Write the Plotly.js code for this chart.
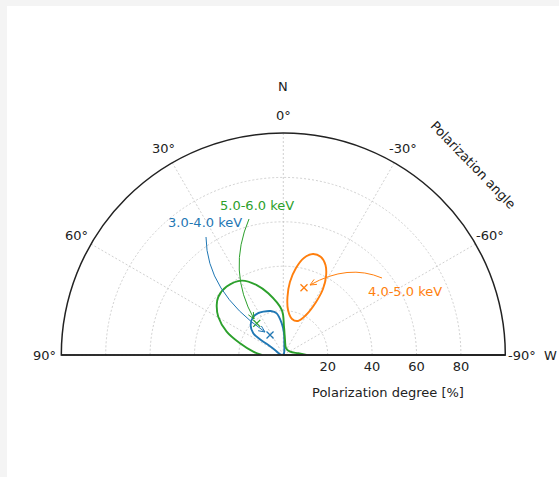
<!DOCTYPE html>
<html><head><meta charset="utf-8">
<script src="https://cdn.plot.ly/plotly-3.0.1.min.js"></script>
<style>
html,body{margin:0;padding:0;background:#f4f4f4;overflow:hidden;width:559px;height:477px}
#plot{position:absolute;left:7px;top:6px;width:552px;height:471px;background:#fff}
</style>
</head><body><div id="plot"></div>
<script>
// ---- data (polarization degree r [%], polarization angle theta [deg]) ----
const bandLabels = ['3.0-4.0 keV', '4.0-5.0 keV', '5.0-6.0 keV'];
const bandColors = ['#1f77b4', '#ff7f0e', '#2ca02c'];

const blueContourR     = [0, 1.35, 5.3, 9.8, 14.3, 19.0, 20.6, 21.5, 22.0, 21.9, 20.0, 16.7, 12.7, 8.1, 4.4, 2.05, 0];
const blueContourTheta = [0, -17, -4.9, -1.8, 2.9, 9.0, 16, 24.8, 31, 38.1, 47.4, 54.1, 56.0, 56.3, 58.9, 70.8, 0];
const blueBestR = [10.8];
const blueBestTheta = [33.6];

const orangeContourR     = [47.4, 47.3, 44.8, 40.5, 34.7, 28.1, 20.7, 16.7, 16.7, 20.4, 26.2, 33.0, 39.6, 44.7, 47.4];
const orangeContourTheta = [-16.4, -21.0, -25.1, -28.4, -31.0, -31.7, -29.6, -23.4, -13.6, -6.0, -4.1, -5.2, -8.3, -12.0, -16.4];
const orangeBestR = [31.7];
const orangeBestTheta = [-17.1];

const greenContourR     = [10.5, 6.8, 3.4, 3.3, 6.8, 12.8, 20.3, 28.6, 33.7, 38.4, 40.0, 39.3, 37.5, 34.0, 27.6, 20.2, 13.6, 9.7];
const greenContourTheta = [-90, -83.5, -63.8, -22, -6.5, -1.4, 2.0, 13.7, 20.8, 29.2, 39.6, 48.1, 53.1, 59.5, 67.6, 74.9, 83.7, 90];
const greenBestR = [18.6];
const greenBestTheta = [40.0];

const angleTicks = [-90, -60, -30, 0, 30, 60, 90];
const angleTickText = ['-90°', '-60°', '-30°', '0°', '30°', '60°', '90°'];
const degreeTicks = [20, 40, 60, 80];

// ---- layout helpers (page pixel -> paper) ----
const W = 552, H = 471, OX = 7, OY = 6;
const px = x => (x - OX) / W;
const py = y => 1 - (y - OY) / H;
const FONT = 'DejaVu Sans';
const CX = 283.3, CY = 355, RAD = 222, LABEL_RAD = 239;

const contours = [
  [blueContourR, blueContourTheta, blueBestR, blueBestTheta, 0],
  [orangeContourR, orangeContourTheta, orangeBestR, orangeBestTheta, 1],
  [greenContourR, greenContourTheta, greenBestR, greenBestTheta, 2]
];
const traces = [];
contours.forEach(([r, t, br, bt, i]) => {
  traces.push({type: 'scatterpolar', mode: 'lines', r: r, theta: t,
    line: {color: bandColors[i], width: 1.9, shape: 'spline', smoothing: 1},
    hoverinfo: 'skip', showlegend: false, name: bandLabels[i]});
  traces.push({type: 'scatterpolar', mode: 'markers', r: br, theta: bt,
    marker: {symbol: 'x-thin', size: 7, line: {color: bandColors[i], width: 1.3}, color: bandColors[i]},
    showlegend: false, name: bandLabels[i]});
});

// curved annotation arrows (quadratic Bezier + open arrowhead), page pixel coords
const arrows = [
  {p0: [206, 237], c: [206.5, 291.5], p2: [265, 332], color: bandColors[0]},
  {p0: [382, 278], c: [348, 263.5], p2: [310, 285], color: bandColors[1]},
  {p0: [249, 219], c: [227, 271], p2: [254, 319], color: bandColors[2]}
];
const shapes = [];
arrows.forEach(a => {
  shapes.push({type: 'path', xref: 'paper', yref: 'paper',
    path: `M ${px(a.p0[0])},${py(a.p0[1])} Q ${px(a.c[0])},${py(a.c[1])} ${px(a.p2[0])},${py(a.p2[1])}`,
    line: {color: a.color, width: 1}});
  let dx = a.p2[0] - a.c[0], dy = a.p2[1] - a.c[1];
  const n = Math.hypot(dx, dy); dx /= n; dy /= n;
  const L = 7, ang = 24 * Math.PI / 180;
  const rot = (s) => [dx * Math.cos(s) - dy * Math.sin(s), dx * Math.sin(s) + dy * Math.cos(s)];
  const r1 = rot(ang), r2 = rot(-ang);
  const A = [a.p2[0] - L * r1[0], a.p2[1] - L * r1[1]];
  const B = [a.p2[0] - L * r2[0], a.p2[1] - L * r2[1]];
  shapes.push({type: 'path', xref: 'paper', yref: 'paper',
    path: `M ${px(A[0])},${py(A[1])} L ${px(a.p2[0])},${py(a.p2[1])} L ${px(B[0])},${py(B[1])}`,
    line: {color: a.color, width: 1}});
});
// baseline of the half disc
shapes.push({type: 'line', xref: 'paper', yref: 'paper', layer: 'above',
  x0: px(CX - RAD), x1: px(CX + RAD), y0: py(CY), y1: py(CY), line: {color: '#222', width: 1.5}});

const txt = (text, x, y, color, extra) => Object.assign({text: text, x: px(x), y: py(y),
  xref: 'paper', yref: 'paper', showarrow: false, xanchor: 'center', yanchor: 'middle',
  font: {family: FONT, size: 13, color: color}}, extra || {});

const annotations = [
  txt('N', 283, 87, '#222'),
  txt('W', 558.5, 355, '#222', {xanchor: 'right'}),
  txt('Polarization degree [%]', 388, 392, '#222'),
  txt('Polarization angle', 472.5, 165, '#222', {textangle: 46}),
  txt(bandLabels[0], 205, 222, bandColors[0]),
  txt(bandLabels[2], 257, 205, bandColors[2]),
  txt(bandLabels[1], 405, 291, bandColors[1])
];
// angular tick labels centred on a circle outside the frame (matplotlib style)
angleTicks.forEach((a, k) => {
  const rad = a * Math.PI / 180;
  annotations.push(txt(angleTickText[k], CX - LABEL_RAD * Math.sin(rad), CY - LABEL_RAD * Math.cos(rad), '#222'));
});

const layout = {
  width: W, height: H, autosize: false,
  margin: {l: 0, r: 0, t: 0, b: 0},
  paper_bgcolor: '#ffffff',
  font: {family: FONT, size: 13, color: '#222'},
  showlegend: false,
  polar: {
    domain: {x: [px(CX - RAD), px(CX + RAD)], y: [py(CY), py(CY - RAD)]},
    sector: [0, 180],
    bgcolor: '#ffffff',
    radialaxis: {range: [0, 100], tickmode: 'array', tickvals: degreeTicks,
      angle: 0, side: 'clockwise', showline: true, linecolor: '#222', linewidth: 1.5,
      ticks: '', showgrid: true, gridcolor: '#c4c4c4', gridwidth: 0.8, griddash: '2px,2px',
      tickfont: {family: FONT, size: 13, color: '#222'}},
    angularaxis: {rotation: 90, direction: 'counterclockwise', tickmode: 'array',
      tickvals: angleTicks, ticktext: angleTickText, showticklabels: false,
      showline: true, linecolor: '#222', linewidth: 1.5,
      ticks: '', showgrid: true, gridcolor: '#c4c4c4', gridwidth: 0.8, griddash: '2px,2px'}
  },
  shapes: shapes,
  annotations: annotations
};
Plotly.newPlot('plot', traces, layout, {staticPlot: true, displayModeBar: false});
</script></body></html>
